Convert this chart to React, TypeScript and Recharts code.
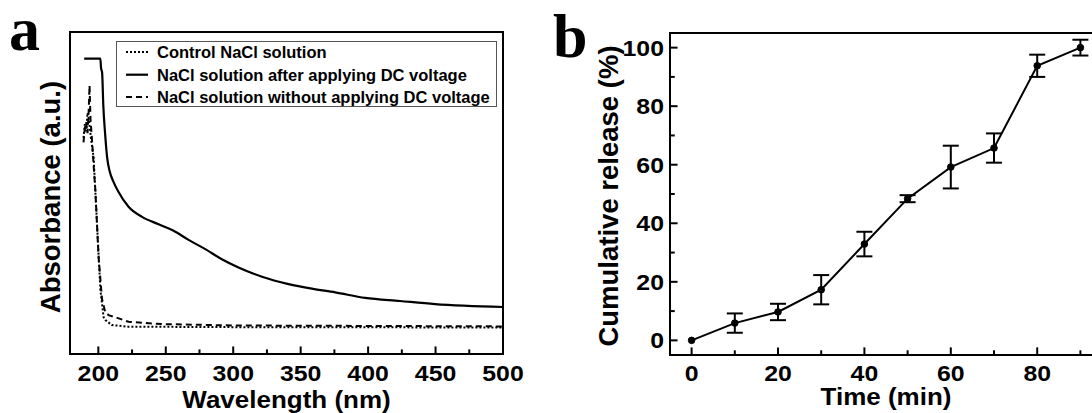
import React from 'react';
import { LineChart, Line, XAxis, YAxis, ReferenceArea, ReferenceLine, ErrorBar, Legend } from 'recharts';

const FONT = '"Liberation Sans", Arial, Helvetica, sans-serif';
const SERIF = '"Liberation Serif", "Times New Roman", serif';

// ---------- Panel a : UV-vis absorbance ----------
const solidWavelengths = [189.5, 201.5, 202.0, 202.8, 203.7, 205.0, 206.5, 208.5, 211.0, 215.0, 222.4, 232.4, 244.7, 255.8, 266.9, 279.3, 291.6, 303.9, 321.3, 341.0, 358.3, 375.6, 397.8, 423.7, 449.6, 500];
const solidAbsorbance = [3.21, 3.21, 3.11, 3.06, 2.7, 2.4, 2.14, 1.98, 1.88, 1.76, 1.6, 1.49, 1.41, 1.34, 1.24, 1.14, 1.03, 0.94, 0.84, 0.76, 0.71, 0.67, 0.61, 0.576, 0.543, 0.511];

const dashedWavelengths = [189, 190, 191, 192, 192.8, 193.5, 194.2, 195.3, 196.5, 197.8, 200.2, 202.7, 205.2, 208, 212.6, 222.4, 247, 300, 400, 500];
const dashedAbsorbance = [2.3, 2.45, 2.52, 2.4, 2.62, 2.92, 2.55, 2.33, 2.05, 1.78, 1.05, 0.6, 0.45, 0.42, 0.4, 0.35, 0.325, 0.31, 0.305, 0.3];

const dottedWavelengths = [189, 190, 191, 192, 193, 194.5, 196.5, 199, 201.5, 203.9, 205.2, 210, 222, 300, 400, 500];
const dottedAbsorbance = [2.35, 2.5, 2.42, 2.62, 2.55, 2.35, 2.14, 1.42, 0.7, 0.4, 0.37, 0.315, 0.297, 0.292, 0.29, 0.288];

const wavelengthTicks = [200, 225, 250, 275, 300, 325, 350, 375, 400, 425, 450, 475, 500];
const legendNames = [
  'Control NaCl solution',
  'NaCl solution after applying DC voltage',
  'NaCl solution without applying DC voltage',
];

// ---------- Panel b : cumulative release ----------
const times = [0, 10, 20, 30, 40, 50, 60, 70, 80, 90];
const release = [0, 5.9, 9.7, 17.3, 32.9, 48.4, 59.2, 65.7, 93.8, 100];
const releaseErr = [null, 3.3, 2.8, 5.0, 4.2, 1.2, 7.3, 5.0, 3.8, 2.7];
const timeTicks = [0, 10, 20, 30, 40, 50, 60, 70, 80, 90];
const releaseTicks = [0, 10, 20, 30, 40, 50, 60, 70, 80, 90, 100];

const solidData = solidWavelengths.map((w, i) => ({ w, a: solidAbsorbance[i] }));
const dashedData = dashedWavelengths.map((w, i) => ({ w, a: dashedAbsorbance[i] }));
const dottedData = dottedWavelengths.map((w, i) => ({ w, a: dottedAbsorbance[i] }));
const releaseData = times.map((t, i) => ({ t, r: release[i], e: releaseErr[i] }));

// axis ranges
const A_X: [number, number] = [179, 500];
const A_Y: [number, number] = [0, 3.5];
const B_X: [number, number] = [-5, 95];
const B_Y: [number, number] = [-5, 105];

const legendStyles = [
  { dash: '2 2', width: 2 },
  { dash: undefined as string | undefined, width: 2.2 },
  { dash: '6 4', width: 2 },
];

const isMajor = (v: number, every: number) => Math.abs(v / every - Math.round(v / every)) < 1e-6;

// tick mark lengths expressed in axis units (inward ticks)
const tickLen = (v: number, every: number, major: number, minor: number) => (isMajor(v, every) ? major : minor);

const makeXLabel = (every: number, labelDy: number) => (props: any) => {
  const { x, y, payload } = props;
  const v = payload.value;
  if (!isMajor(v, every)) return <g />;
  return (
    <text
      transform={`translate(${x},${y + labelDy}) scale(1.13,1)`}
      textAnchor="middle"
      fontFamily={FONT}
      fontWeight={700}
      fontSize={22}
      fill="#000"
    >
      {v}
    </text>
  );
};

const makeYLabel = (every: number) => (props: any) => {
  const { x, y, payload } = props;
  const v = payload.value;
  if (!isMajor(v, every)) return <g />;
  return (
    <text
      transform={`translate(${x - 6},${y + 8}) scale(1.13,1)`}
      textAnchor="end"
      fontFamily={FONT}
      fontWeight={700}
      fontSize={22}
      fill="#000"
    >
      {v}
    </text>
  );
};

const xTitle = (text: string, baselineOffset: number) => (props: any) => {
  const vb = props.viewBox;
  const cx = vb.x + vb.width / 2;
  return (
    <text
      transform={`translate(${cx},${vb.y + baselineOffset}) scale(1.13,1)`}
      textAnchor="middle"
      fontFamily={FONT}
      fontWeight={700}
      fontSize={23}
      fill="#000"
    >
      {text}
    </text>
  );
};

const yTitle = (text: string, centerX: number, centerY: number) => () => (
  <text
    x={centerX}
    y={centerY}
    transform={`rotate(-90, ${centerX}, ${centerY})`}
    textAnchor="middle"
    dy={9.5}
    fontFamily={FONT}
    fontWeight={700}
    fontSize={27.5}
    fill="#000"
  >
    {text}
  </text>
);

const renderLegend = () => {
  const rows = [11, 33.7, 56];
  return (
    <svg width={381} height={66} style={{ display: 'block' }}>
      <rect x={0.5} y={0.5} width={380} height={65} fill="#fff" stroke="#555" strokeWidth={1} />
      {legendNames.map((name, i) => (
        <g key={name}>
          <line
            x1={10}
            x2={32}
            y1={rows[i]}
            y2={rows[i]}
            stroke="#000"
            strokeWidth={legendStyles[i].width}
            strokeDasharray={legendStyles[i].dash}
          />
          <text x={41} y={rows[i] + 6} fontFamily={FONT} fontWeight={700} fontSize={16.5} fill="#000">
            {name}
          </text>
        </g>
      ))}
    </svg>
  );
};

export default function App() {
  return (
    <div
      style={{
        position: 'fixed',
        left: 0,
        top: 0,
        width: 1092,
        height: 413,
        overflow: 'hidden',
        background: '#fff',
      }}
    >
      <div style={{ position: 'absolute', left: 0, top: 0 }}>
        <LineChart width={546} height={413} margin={{ top: 32, right: 43, bottom: 0, left: 0 }}>
          <XAxis
            dataKey="w"
            type="number"
            domain={A_X}
            ticks={wavelengthTicks}
            interval={0}
            allowDataOverflow
            height={59}
            tickSize={0}
            tickMargin={0}
            axisLine={false}
            tickLine={false}
            tick={makeXLabel(50, 27)}
            label={{ content: xTitle('Wavelength (nm)', 54) } as any}
          />
          <YAxis
            type="number"
            domain={A_Y}
            allowDataOverflow
            width={70}
            tick={false}
            tickLine={false}
            axisLine={false}
            label={{ content: yTitle('Absorbance (a.u.)', 50, 197) } as any}
          />
          {wavelengthTicks.map((v) => (
            <ReferenceLine
              key={`ax${v}`}
              segment={[
                { x: v, y: A_Y[0] },
                { x: v, y: A_Y[0] + tickLen(v, 50, 0.082, 0.05) },
              ]}
              stroke="#000"
              strokeWidth={2}
              ifOverflow="visible"
            />
          ))}
          <ReferenceArea x1={A_X[0]} x2={A_X[1]} y1={A_Y[0]} y2={A_Y[1]} fill="none" stroke="#000" strokeWidth={2} ifOverflow="visible" />
          <Line
            data={dottedData}
            dataKey="a"
            type="linear"
            stroke="#000"
            strokeWidth={2}
            strokeDasharray="2 2"
            dot={false}
            isAnimationActive={false}
            name={legendNames[0]}
          />
          <Line
            data={solidData}
            dataKey="a"
            type="monotone"
            stroke="#000"
            strokeWidth={2.2}
            dot={false}
            isAnimationActive={false}
            name={legendNames[1]}
          />
          <Line
            data={dashedData}
            dataKey="a"
            type="linear"
            stroke="#000"
            strokeWidth={2}
            strokeDasharray="6 4"
            dot={false}
            isAnimationActive={false}
            name={legendNames[2]}
          />
          <Legend
            layout="vertical"
            align="center"
            verticalAlign="middle"
            content={renderLegend}
            wrapperStyle={{ position: 'absolute', left: 116, top: 41, width: 381, height: 66, margin: 0, padding: 0 }}
          />
        </LineChart>
      </div>

      <div style={{ position: 'absolute', left: 546, top: 0 }}>
        <LineChart width={600} height={413} data={releaseData} margin={{ top: 33, right: 44, bottom: 0, left: 0 }}>
          <XAxis
            dataKey="t"
            type="number"
            domain={B_X}
            ticks={timeTicks}
            interval={0}
            allowDataOverflow
            height={58}
            tickSize={0}
            tickMargin={0}
            axisLine={false}
            tickLine={false}
            tick={makeXLabel(20, 26)}
            label={{ content: xTitle('Time (min)', 49.5) } as any}
          />
          <YAxis
            type="number"
            domain={B_Y}
            ticks={releaseTicks}
            interval={0}
            allowDataOverflow
            width={124}
            tickSize={0}
            tickMargin={0}
            axisLine={false}
            tickLine={false}
            tick={makeYLabel(20)}
            label={{ content: yTitle('Cumulative release (%)', 62, 196) } as any}
          />
          {timeTicks.map((v) => (
            <ReferenceLine
              key={`bx${v}`}
              segment={[
                { x: v, y: B_Y[0] },
                { x: v, y: B_Y[0] + tickLen(v, 20, 2.6, 1.6) },
              ]}
              stroke="#000"
              strokeWidth={2}
              ifOverflow="visible"
            />
          ))}
          {releaseTicks.map((v) => (
            <ReferenceLine
              key={`by${v}`}
              segment={[
                { x: B_X[0], y: v },
                { x: B_X[0] + tickLen(v, 20, 1.75, 1.1), y: v },
              ]}
              stroke="#000"
              strokeWidth={2}
              ifOverflow="visible"
            />
          ))}
          <ReferenceArea x1={B_X[0]} x2={B_X[1]} y1={B_Y[0]} y2={B_Y[1]} fill="none" stroke="#000" strokeWidth={2} ifOverflow="visible" />
          <Line
            dataKey="r"
            type="linear"
            stroke="#000"
            strokeWidth={2}
            dot={{ r: 3.3, fill: '#000', stroke: '#000', strokeWidth: 1 }}
            isAnimationActive={false}
          >
            <ErrorBar dataKey="e" width={8} strokeWidth={2} stroke="#000" direction="y" isAnimationActive={false} />
          </Line>
        </LineChart>
      </div>

      <svg width={1092} height={413} style={{ position: 'absolute', left: 0, top: 0, pointerEvents: 'none' }}>
        <text x={9} y={50} fontFamily={SERIF} fontWeight={700} fontSize={62} fill="#000">a</text>
        <text x={553} y={57} fontFamily={SERIF} fontWeight={700} fontSize={62} fill="#000">b</text>
      </svg>
    </div>
  );
}
